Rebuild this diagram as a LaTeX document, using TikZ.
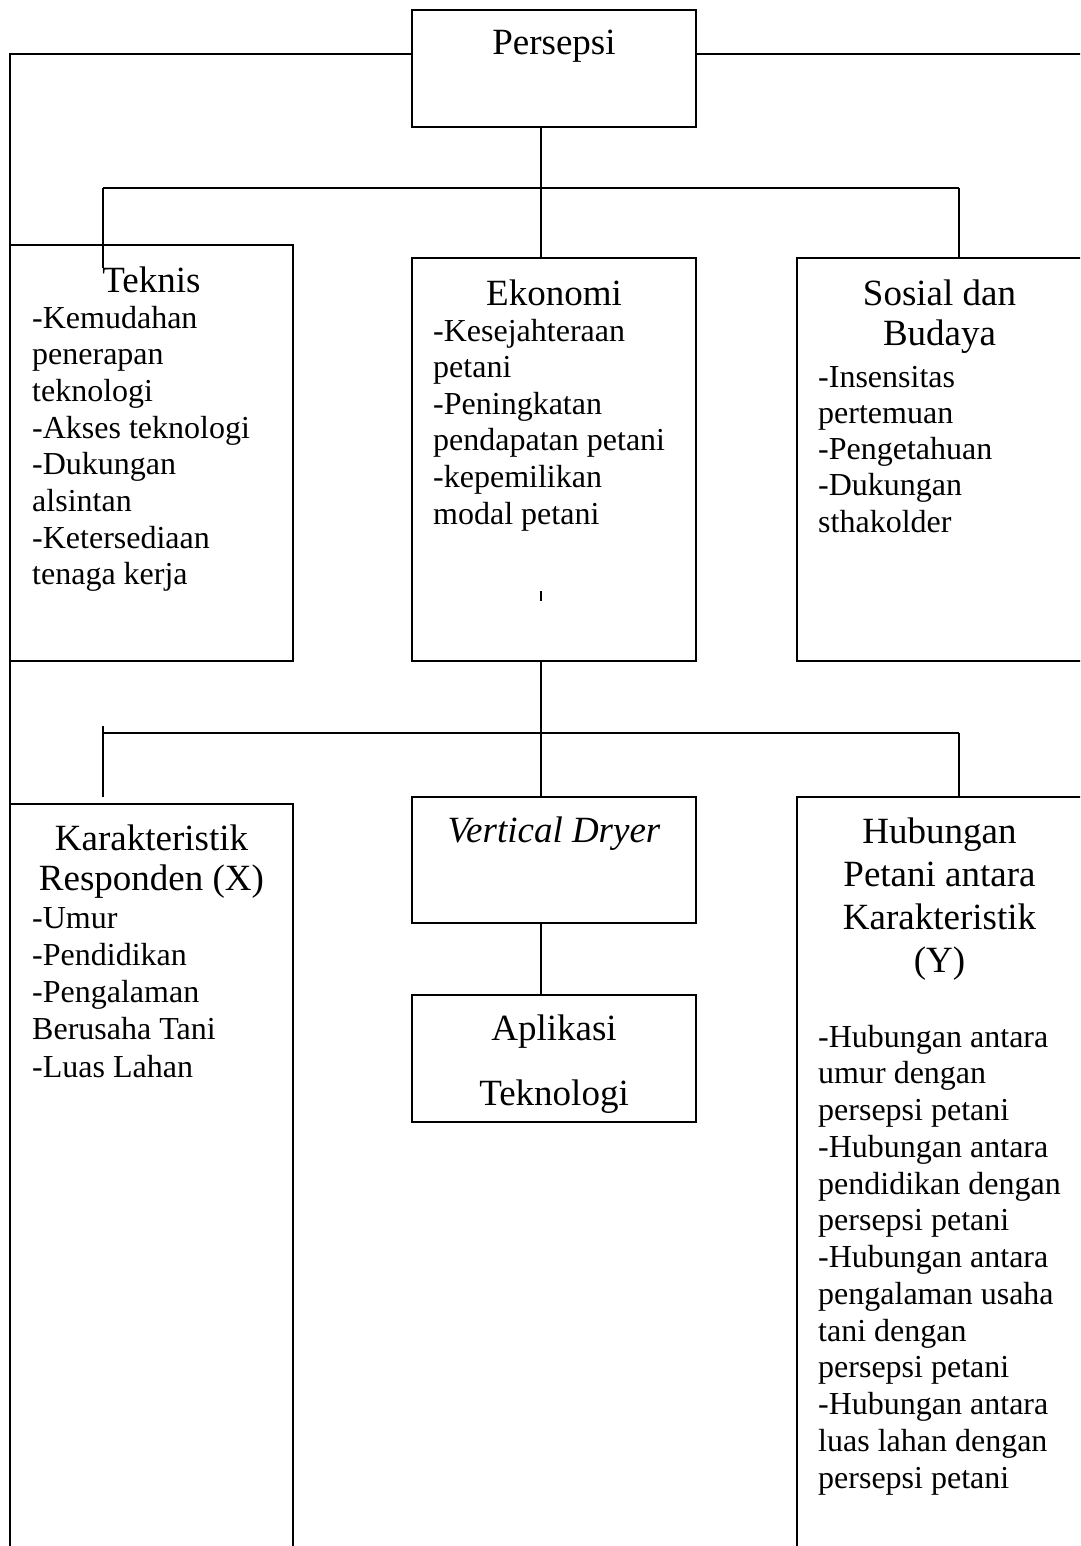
\documentclass[tikz,border=0pt]{standalone}
\usepackage{fontspec}
\setmainfont{Liberation Serif}
\begin{document}
\begin{tikzpicture}[x=1pt,y=-1pt,
  box/.style={draw, line width=1.8pt, inner sep=0pt},
  conn/.style={line width=1.5pt},
  body/.style={font=\fontsize{32}{36.7}\selectfont, inner sep=0pt, anchor=base west},
  ttl/.style={font=\fontsize{37}{42}\selectfont, inner sep=0pt, anchor=base}]
\useasboundingbox (0,0) rectangle (1080,1546);
\clip (0,0) rectangle (1080,1546);
\fill[white] (0,0) rectangle (1080,1546);

% boxes
\node[box, minimum width=284pt, minimum height=117pt] (persepsi) at (554,68.5) {};
\node[box, minimum width=283pt, minimum height=416pt] (teknis) at (151.5,453) {};
\node[box, minimum width=284pt, minimum height=403pt] (ekonomi) at (554,459.5) {};
\node[box, minimum width=285pt, minimum height=403pt] (sosial) at (939.5,459.5) {};
\node[box, minimum width=283pt, minimum height=756pt] (karakter) at (151.5,1182) {};
\node[box, minimum width=284pt, minimum height=126pt] (vdryer) at (554,860) {};
\node[box, minimum width=284pt, minimum height=127pt] (aplikasi) at (554,1058.5) {};
\node[box, minimum width=285pt, minimum height=763pt] (hubungan) at (939.5,1178.5) {};

% connectors
\coordinate (L1) at (10,54);
\coordinate (Lb) at (10,1560);
\draw[conn] (persepsi.west |- L1) -- (L1) -- (Lb);
\coordinate (R1) at (1090,54);
\draw[conn] (persepsi.east |- L1) -- (R1);
\coordinate (J1) at (541,188);
\draw[conn] (persepsi.south -| J1) -- (ekonomi.north -| J1);
\coordinate (B1l) at (103,188);
\coordinate (B1r) at (959,188);
\draw[conn] (B1l) -- (B1r);
\coordinate (T1) at (103,268);
\draw[conn] (B1l) -- (T1);
\draw[conn] (B1r) -- (sosial.north -| B1r);
\coordinate (J2) at (541,733);
\draw[conn] (ekonomi.south -| J2) -- (J2) -- (vdryer.north -| J2);
\coordinate (B2l) at (103,733);
\coordinate (B2r) at (959,733);
\draw[conn] (B2l) -- (B2r);
\coordinate (K1) at (103,726);
\coordinate (K2) at (103,797);
\draw[conn] (K1) -- (K2);
\draw[conn] (B2r) -- (hubungan.north -| B2r);
\draw[conn] (vdryer.south -| J2) -- (aplikasi.north -| J2);
\coordinate (tk1) at (541,591);
\coordinate (tk2) at (541,601);
\draw[conn] (tk1) -- (tk2);

% titles
\node[ttl] (tPersepsi) at (554,55) {Persepsi};
\node[ttl] (tTeknis) at (151.5,292) {Teknis};
\node[ttl] (tEkonomi) at (554,305) {Ekonomi};
\node[ttl] (tSosial1) at (939.5,305) {Sosial dan};
\node[ttl] (tSosial2) at (939.5,345) {Budaya};
\node[ttl] (tKar1) at (151.5,850) {Karakteristik};
\node[ttl] (tKar2) at (151.5,890) {Responden (X)};
\node[ttl] (tVD) at (554,842) {\itshape Vertical Dryer};
\node[ttl] (tApl1) at (554,1040) {Aplikasi};
\node[ttl] (tApl2) at (554,1105) {Teknologi};
\node[ttl] (tHub1) at (939.5,843) {Hubungan};
\node[ttl] (tHub2) at (939.5,886) {Petani antara};
\node[ttl] (tHub3) at (939.5,929) {Karakteristik};
\node[ttl] (tHub4) at (939.5,972) {(Y)};

% body lists
\foreach \t [count=\i from 0] in {-Kemudahan, penerapan, teknologi, -Akses teknologi, -Dukungan, alsintan, -Ketersediaan, tenaga kerja}
  \node[body] (tk-\i) at (32,{328+36.7*\i}) {\t};
\foreach \t [count=\i from 0] in {-Kesejahteraan, petani, -Peningkatan, pendapatan petani, -kepemilikan, modal petani}
  \node[body] (ek-\i) at (433,{341+36.6*\i}) {\t};
\foreach \t [count=\i from 0] in {-Insensitas, pertemuan, -Pengetahuan, -Dukungan, sthakolder}
  \node[body] (so-\i) at (818,{387+36.3*\i}) {\t};
\foreach \t [count=\i from 0] in {-Umur, -Pendidikan, -Pengalaman, Berusaha Tani, -Luas Lahan}
  \node[body] (ka-\i) at (32,{928+37.25*\i}) {\t};
\foreach \t [count=\i from 0] in {-Hubungan antara, umur dengan, persepsi petani, -Hubungan antara, pendidikan dengan, persepsi petani, -Hubungan antara, pengalaman usaha, tani dengan, persepsi petani, -Hubungan antara, luas lahan dengan, persepsi petani}
  \node[body] (hu-\i) at (818,{1047+36.75*\i}) {\t};
\end{tikzpicture}
\end{document}
